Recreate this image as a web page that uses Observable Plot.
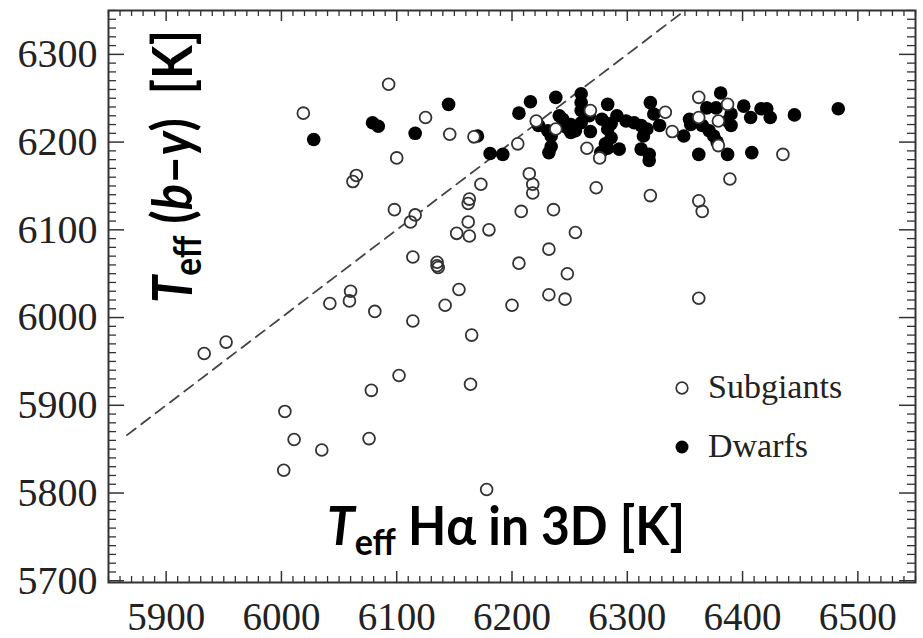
<!DOCTYPE html>
<html>
<head>
<meta charset="utf-8">
<script src="https://cdn.jsdelivr.net/npm/d3@7"></script>
<script src="https://cdn.jsdelivr.net/npm/@observablehq/plot@0.6"></script>
<style>
  body { margin: 0; background: #fff; }
  #chart { width: 923px; height: 638px; }
</style>
</head>
<body>
<div id="chart"></div>
<script>
// Effective temperatures: H-alpha profile fits with 3D models (x) vs. (b-y) photometry (y)
const subgiantHalpha = [5933, 5952, 6003, 6011, 6002, 6035, 6076, 6078, 6102, 6164, 6178, 6165,
  6060, 6059, 6042, 6081, 6114, 6142, 6154, 6200, 6232, 6246, 6114, 6135, 6135, 6136, 6206, 6232,
  6248, 6255, 6093, 6019, 6125, 6146, 6167, 6205, 6100, 6065, 6062, 6098, 6116, 6112, 6173, 6163,
  6162, 6162, 6152, 6163, 6180, 6215, 6218, 6218, 6208, 6236, 6221, 6238, 6265, 6276, 6268, 6273,
  6320, 6333, 6339, 6362, 6362, 6387, 6379, 6379, 6389, 6362, 6365, 6435, 6362];
const subgiantBy = [5959, 5972, 5893, 5861, 5826, 5849, 5862, 5917, 5934, 5924, 5804, 5980,
  6030, 6019, 6016, 6007, 5996, 6014, 6032, 6014, 6026, 6021, 6069, 6063, 6059, 6057, 6062, 6078,
  6050, 6097, 6266, 6233, 6228, 6209, 6206, 6198, 6182, 6162, 6155, 6123, 6117, 6109, 6152, 6135,
  6130, 6109, 6096, 6093, 6100, 6164, 6152, 6142, 6121, 6123, 6224, 6215, 6193, 6182, 6236, 6148,
  6139, 6234, 6212, 6251, 6228, 6243, 6224, 6196, 6158, 6133, 6121, 6186, 6022];

const dwarfHalpha = [6028, 6079, 6084, 6116, 6145, 6170, 6181, 6192, 6206, 6216, 6238, 6260,
  6223, 6231, 6234, 6234, 6232, 6244, 6251, 6255, 6260, 6260, 6260, 6267, 6268, 6251, 6283, 6278,
  6283, 6286, 6281, 6283, 6291, 6299, 6306, 6312, 6314, 6293, 6312, 6319, 6319, 6320, 6323, 6328,
  6349, 6354, 6355, 6362, 6365, 6371, 6375, 6378, 6369, 6377, 6381, 6387, 6390, 6390, 6387, 6401,
  6407, 6408, 6416, 6421, 6424, 6445, 6483, 6241, 6248, 6254, 6277, 6317, 6286];
const dwarfBy = [6203, 6222, 6218, 6210, 6243, 6207, 6187, 6186, 6233, 6246, 6251, 6255,
  6219, 6213, 6207, 6195, 6188, 6226, 6220, 6213, 6222, 6236, 6245, 6230, 6212, 6211, 6243, 6226,
  6215, 6205, 6198, 6193, 6230, 6224, 6222, 6219, 6207, 6192, 6192, 6186, 6179, 6245, 6232, 6219,
  6207, 6226, 6220, 6186, 6219, 6213, 6207, 6200, 6239, 6239, 6256, 6224, 6232, 6219, 6186, 6241,
  6228, 6188, 6238, 6238, 6228, 6231, 6238, 6230, 6216, 6217, 6188, 6215, 6221];

const xTickLabels = [5900, 6000, 6100, 6200, 6300, 6400, 6500];
const yTickLabels = [5700, 5800, 5900, 6000, 6100, 6200, 6300];
const xMinorTicks = d3.range(5850, 6551, 10).filter(v => v % 100 !== 0);
const yMinorTicks = d3.range(5700, 6351, 10).filter(v => v % 100 !== 0);
const oneToOne = [5866, 6350];

const subgiants = subgiantHalpha.map((x, i) => ({x, y: subgiantBy[i]}));
const dwarfs = dwarfHalpha.map((x, i) => ({x, y: dwarfBy[i]}));

const W = 923, H = 638;
const mL = 108, mR = 8, mT = 10, mB = 56;
const frameW = W - mL - mR, frameH = H - mT - mB;
const ink = "#333";
const serif = "'Liberation Serif', 'Times New Roman', serif";

const chart = Plot.plot({
  width: W,
  height: H,
  marginLeft: mL, marginRight: mR, marginTop: mT, marginBottom: mB,
  x: {domain: [5850, 6550], axis: null},
  y: {domain: [5698, 6350], axis: null},
  style: {background: "#fff", overflow: "visible"},
  marks: [
    // inward ticks on all four sides
    Plot.tickX(xMinorTicks, {x: d => d, insetTop: frameH - 6, stroke: ink, strokeWidth: 1.3}),
    Plot.tickX(xMinorTicks, {x: d => d, insetBottom: frameH - 6, stroke: ink, strokeWidth: 1.3}),
    Plot.tickX(xTickLabels, {x: d => d, insetTop: frameH - 11, stroke: ink, strokeWidth: 1.5}),
    Plot.tickX(xTickLabels, {x: d => d, insetBottom: frameH - 11, stroke: ink, strokeWidth: 1.5}),
    Plot.tickY(yMinorTicks, {y: d => d, insetRight: frameW - 8, stroke: ink, strokeWidth: 1.3}),
    Plot.tickY(yMinorTicks, {y: d => d, insetLeft: frameW - 8, stroke: ink, strokeWidth: 1.3}),
    Plot.tickY(yTickLabels, {y: d => d, insetRight: frameW - 16, stroke: ink, strokeWidth: 1.5}),
    Plot.tickY(yTickLabels, {y: d => d, insetLeft: frameW - 16, stroke: ink, strokeWidth: 1.5}),
    // tick labels
    Plot.text(xTickLabels, {x: d => d, text: d => String(d), frameAnchor: "bottom", dy: 35,
      lineAnchor: "middle", fontSize: 39, fontFamily: serif, fill: "#222"}),
    Plot.text(yTickLabels, {y: d => d, text: d => String(d), frameAnchor: "left", dx: -11,
      textAnchor: "end", lineAnchor: "middle", fontSize: 40, fontFamily: serif, fill: "#222"}),
    // one-to-one line
    Plot.line(oneToOne, {x: d => d, y: d => d, stroke: "#444", strokeWidth: 1.8, strokeDasharray: "11,7"}),
    // dwarfs (filled)
    Plot.dot(dwarfs, {x: "x", y: "y", r: 6.8, fill: "#000", stroke: "none"}),
    // subgiants (open): white disc then ring
    Plot.dot(subgiants, {x: "x", y: "y", r: 5.8, fill: "#fff", stroke: "none"}),
    Plot.dot(subgiants, {x: "x", y: "y", r: 5.9, fill: "none", stroke: ink, strokeWidth: 1.8}),
    Plot.frame({stroke: ink, strokeWidth: 2})
  ]
});

document.getElementById("chart").appendChild(chart);

// Axis titles and legend drawn inside the frame
const svg = d3.select(chart);
const sans = "Lato, 'Noto Sans', sans-serif";

const yTitle = svg.append("text")
  .attr("transform", "translate(192,303) rotate(-90)")
  .attr("text-anchor", "start")
  .attr("font-family", sans).attr("font-weight", "bold").attr("font-size", 56)
  .attr("fill", "#000")
  .attr("textLength", 273).attr("lengthAdjust", "spacingAndGlyphs");
yTitle.append("tspan").attr("font-style", "italic").text("T");
yTitle.append("tspan").attr("font-size", 38).attr("dy", 9).text("eff");
yTitle.append("tspan").attr("dy", -9).text("\u00a0(");
yTitle.append("tspan").attr("font-style", "italic").text("b");
yTitle.append("tspan").text("\u2013");
yTitle.append("tspan").attr("font-style", "italic").text("y");
yTitle.append("tspan").text(")\u00a0\u00a0[K]");

const xTitle = svg.append("text")
  .attr("x", 327).attr("y", 545)
  .attr("text-anchor", "start")
  .attr("font-family", sans).attr("font-weight", "bold").attr("font-size", 54)
  .attr("fill", "#000")
  .attr("textLength", 358).attr("lengthAdjust", "spacingAndGlyphs");
xTitle.append("tspan").attr("font-style", "italic").text("T");
xTitle.append("tspan").attr("font-size", 37).attr("dy", 10).text("eff");
xTitle.append("tspan").attr("dy", -10).text("\u00a0H\u03b1 in 3D [K]");

const legend = [
  {label: "Subgiants", cy: 388, open: true},
  {label: "Dwarfs", cy: 447, open: false}
];
const lg = svg.append("g");
legend.forEach(d => {
  lg.append("circle").attr("cx", 682).attr("cy", d.cy).attr("r", d.open ? 5.8 : 6.5)
    .attr("fill", d.open ? "none" : "#000")
    .attr("stroke", d.open ? ink : "none").attr("stroke-width", 1.7);
  lg.append("text").attr("x", 708).attr("y", d.cy + 10)
    .attr("text-anchor", "start")
    .attr("font-family", serif).attr("font-size", 34).attr("fill", "#222")
    .text(d.label);
});
</script>
</body>
</html>
